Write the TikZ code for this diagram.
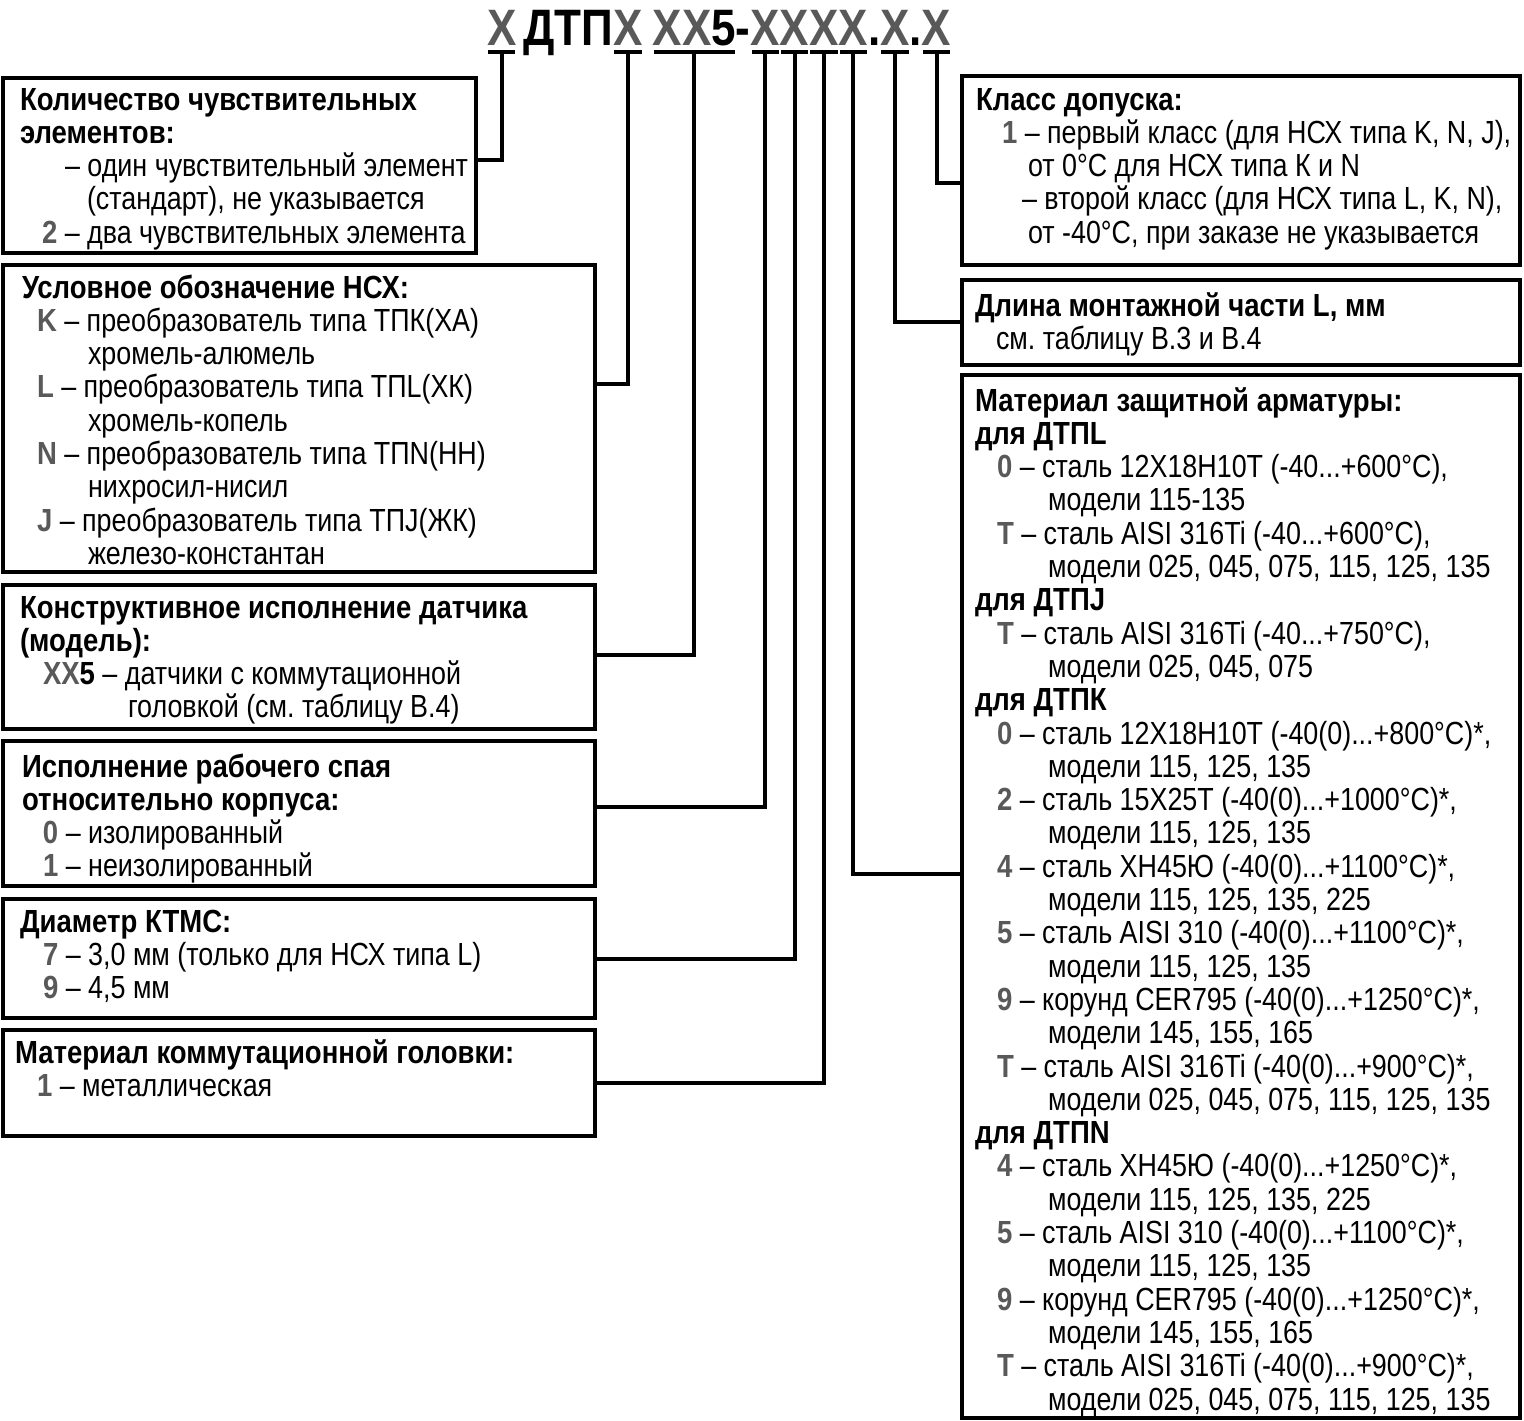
\documentclass[tikz,border=0pt]{standalone}
\usepackage{fontspec}
\setmainfont{Liberation Sans}[FakeStretch=0.84,BoldFeatures={FakeStretch=0.86}]
\usetikzlibrary{calc}
\definecolor{keygray}{HTML}{595959}
\newcommand{\kk}[1]{{\bfseries\color{keygray}#1}}
\newcommand{\ind}[1]{\hspace*{#1pt}}
\newcommand{\fl}{\rule{0pt}{30pt}}
\frenchspacing
\begin{document}
\begin{tikzpicture}[x=1pt,y=-1pt,
  box/.style={draw, line width=4pt, inner sep=0pt, outer sep=0pt, anchor=north west},
  conn/.style={draw, line width=4pt},
  ul/.style={draw, line width=4pt},
  txt/.style={anchor=north west, inner sep=0pt, outer sep=0pt, align=left, font={\fontsize{32}{33.3}\selectfont\lineskiplimit=-100pt}},
  ttl/.style={anchor=base west, inner sep=0pt, outer sep=0pt, font={\fontsize{51.2}{51.2}\selectfont\bfseries}},
  gx/.style={text=keygray}]
\useasboundingbox (0,0) rectangle (1524,1421);

% title
\node[ttl,gx] (t1) at (487,46) {X};
\node[ttl] (t2) at ([xshift=7]t1.base east) {ДТП};
\node[ttl,gx] (t3) at (t2.base east) {X};
\node[ttl,gx] (t4) at ([xshift=10]t3.base east) {XX};
\node[ttl] (t5) at (t4.base east) {5};
\node[ttl] (t6) at (t5.base east) {-};
\node[ttl,gx] (t7) at (t6.base east) {X};
\node[ttl,gx] (t8) at (t7.base east) {X};
\node[ttl,gx] (t9) at (t8.base east) {X};
\node[ttl,gx] (t10) at (t9.base east) {X};
\node[ttl] (t11) at (t10.base east) {.};
\node[ttl,gx] (t12) at (t11.base east) {X};
\node[ttl] (t13) at (t12.base east) {.};
\node[ttl,gx] (t14) at (t13.base east) {X};

\foreach \n in {t1,t3,t7,t8,t9,t10,t12,t14}{
  \draw[ul] ([shift={(1,6)}]\n.base west) -- ([shift={(-1,6)}]\n.base east);
  \coordinate (u\n) at ([shift={(0,6)}]\n.base);
}
\draw[ul] ([shift={(1,6)}]t4.base west) -- ([shift={(-1,6)}]t5.base east);
\coordinate (ut4) at ($(t4.base west)!0.5!(t5.base east)+(0,6)$);

% boxes
\node[box, minimum width=473, minimum height=175] (b1) at (3,78) {};
\node[box, minimum width=592, minimum height=307] (b2) at (3,265) {};
\node[box, minimum width=592, minimum height=144] (b3) at (3,585) {};
\node[box, minimum width=592, minimum height=145] (b4) at (3,741) {};
\node[box, minimum width=592, minimum height=119] (b5) at (3,899) {};
\node[box, minimum width=592, minimum height=106] (b6) at (3,1030) {};
\node[box, minimum width=558, minimum height=189] (b7) at (962,76) {};
\node[box, minimum width=558, minimum height=85] (b8) at (962,280) {};
\node[box, minimum width=558, minimum height=1043] (b9) at (962,375) {};

% texts
\begin{scope}
\clip (3,78) rectangle (476,253);
\node[txt] (x1) at (20,80) {{\fl\bfseries Количество чувствительных}\\
{\bfseries элементов:}\\
\ind{45}– один чувствительный элемент\\
\ind{67}(стандарт), не указывается\\
\ind{22}\kk{2} – два чувствительных элемента};
\end{scope}

\node[txt] (x2) at (22,268) {{\fl\bfseries Условное обозначение НСХ:}\\
\ind{15}\kk{K} – преобразователь типа ТПК(ХА)\\
\ind{66}хромель-алюмель\\
\ind{15}\kk{L} – преобразователь типа ТПL(ХК)\\
\ind{66}хромель-копель\\
\ind{15}\kk{N} – преобразователь типа ТПN(НН)\\
\ind{66}нихросил-нисил\\
\ind{15}\kk{J} – преобразователь типа ТПJ(ЖК)\\
\ind{66}железо-константан};

\node[txt] (x3) at (20,588) {{\fl\bfseries Конструктивное исполнение датчика}\\
{\bfseries (модель):}\\
\ind{23}\kk{XX}{\bfseries 5} – датчики с коммутационной\\
\ind{108}головкой (см. таблицу В.4)};

\node[txt] (x4) at (22,747) {{\fl\bfseries Исполнение рабочего спая}\\
{\bfseries относительно корпуса:}\\
\ind{21}\kk{0} – изолированный\\
\ind{21}\kk{1} – неизолированный};

\node[txt] (x5) at (20,902) {{\fl\bfseries Диаметр КТМС:}\\
\ind{23}\kk{7} – 3,0 мм (только для НСХ типа L)\\
\ind{23}\kk{9} – 4,5 мм};

\node[txt] (x6) at (15,1033) {{\fl\bfseries Материал коммутационной головки:}\\
\ind{22}\kk{1} – металлическая};

\node[txt] (x7) at (976,80) {{\fl\bfseries Класс допуска:}\\
\ind{26}\kk{1} – первый класс (для НСХ типа K, N, J),\\
\ind{52}от 0°С для НСХ типа К и N\\
\ind{46}– второй класс (для НСХ типа L, K, N),\\
\ind{52}от -40°С, при заказе не указывается};

\node[txt] (x8) at (975,286) {{\fl\bfseries Длина монтажной части L, мм}\\
\ind{21}см. таблицу В.3 и В.4};

\node[txt] (x9) at (975,381) {{\fl\bfseries Материал защитной арматуры:}\\
{\bfseries для ДТПL}\\
\ind{22}\kk{0} – сталь 12Х18Н10Т (-40...+600°С),\\
\ind{73}модели 115-135\\
\ind{22}\kk{T} – сталь AISI 316Ti (-40...+600°С),\\
\ind{73}модели 025, 045, 075, 115, 125, 135\\
{\bfseries для ДТПJ}\\
\ind{22}\kk{T} – сталь AISI 316Ti (-40...+750°С),\\
\ind{73}модели 025, 045, 075\\
{\bfseries для ДТПК}\\
\ind{22}\kk{0} – сталь 12Х18Н10Т (-40(0)...+800°С)*,\\
\ind{73}модели 115, 125, 135\\
\ind{22}\kk{2} – сталь 15Х25Т (-40(0)...+1000°С)*,\\
\ind{73}модели 115, 125, 135\\
\ind{22}\kk{4} – сталь ХН45Ю (-40(0)...+1100°С)*,\\
\ind{73}модели 115, 125, 135, 225\\
\ind{22}\kk{5} – сталь AISI 310 (-40(0)...+1100°С)*,\\
\ind{73}модели 115, 125, 135\\
\ind{22}\kk{9} – корунд CER795 (-40(0)...+1250°С)*,\\
\ind{73}модели 145, 155, 165\\
\ind{22}\kk{T} – сталь AISI 316Ti (-40(0)...+900°С)*,\\
\ind{73}модели 025, 045, 075, 115, 125, 135\\
{\bfseries для ДТПN}\\
\ind{22}\kk{4} – сталь ХН45Ю (-40(0)...+1250°С)*,\\
\ind{73}модели 115, 125, 135, 225\\
\ind{22}\kk{5} – сталь AISI 310 (-40(0)...+1100°С)*,\\
\ind{73}модели 115, 125, 135\\
\ind{22}\kk{9} – корунд CER795 (-40(0)...+1250°С)*,\\
\ind{73}модели 145, 155, 165\\
\ind{22}\kk{T} – сталь AISI 316Ti (-40(0)...+900°С)*,\\
\ind{73}модели 025, 045, 075, 115, 125, 135};

% connector heights
\coordinate (h1) at (0,160);
\coordinate (h2) at (0,384);
\coordinate (h3) at (0,655);
\coordinate (h4) at (0,807);
\coordinate (h5) at (0,959);
\coordinate (h6) at (0,1083);
\coordinate (h9) at (0,874);
\coordinate (h8) at (0,322);
\coordinate (h7) at (0,183);

\draw[conn] (ut1) |- (b1.east |- h1);
\draw[conn] (ut3) |- (b2.east |- h2);
\draw[conn] (ut4) |- (b3.east |- h3);
\draw[conn] (ut7) |- (b4.east |- h4);
\draw[conn] (ut8) |- (b5.east |- h5);
\draw[conn] (ut9) |- (b6.east |- h6);
\draw[conn] (ut10) |- (b9.west |- h9);
\draw[conn] (ut12) |- (b8.west |- h8);
\draw[conn] (ut14) |- (b7.west |- h7);
\end{tikzpicture}
\end{document}
